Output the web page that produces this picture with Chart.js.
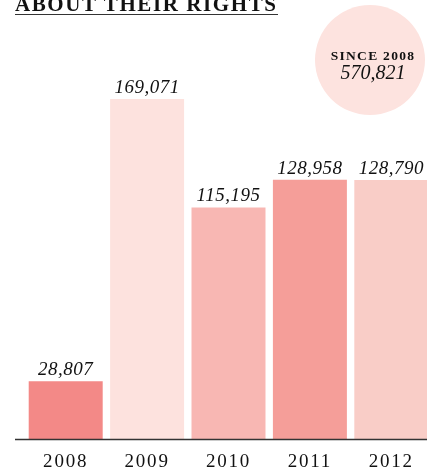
<!DOCTYPE html>
<html>
<head>
<meta charset="utf-8">
<script src="https://cdn.jsdelivr.net/npm/chart.js@4.4.1/dist/chart.umd.min.js"></script>
<style>
  html, body { margin: 0; padding: 0; background: #fff; overflow: hidden; width: 427px; height: 468px; }
  #wrap { position: absolute; left: 0; top: 0; width: 432px; height: 468px; }
  #title {
    position: absolute; left: 15px; top: -6px; margin: 0;
    font: bold 21px "Liberation Serif", serif; letter-spacing: 1.6px;
    color: #111; white-space: nowrap;
    border-bottom: 1.5px solid #333; line-height: 20px; padding-bottom: 0;
  }
  #badge {
    position: absolute; left: 315px; top: 5px; width: 110px; height: 110px;
    border-radius: 50%; background: #fde3df; text-align: center;
    font-family: "Liberation Serif", serif; color: #111;
  }
  #badge .lbl { position: absolute; left: 0; right: -6px; top: 43px; font-weight: bold; font-size: 13.5px; letter-spacing: 1.3px; }
  #badge .num { position: absolute; left: 0; right: -6px; top: 56px; font-style: italic; font-size: 20px; }
</style>
</head>
<body>
<div id="wrap"><canvas id="main-chart"></canvas></div>
<div id="title">ABOUT THEIR RIGHTS</div>
<div id="badge"><div class="lbl">SINCE 2008</div><div class="num" id="total"></div></div>
<script>
// data
const years = ["2008", "2009", "2010", "2011", "2012"];
const counts = [28807, 169071, 115195, 128958, 128790];
const barColors = ["#f38987", "#fde2de", "#f8b7b3", "#f59e99", "#f9cdc7"];

const fmt = n => n.toLocaleString("en-US");
document.getElementById("total").textContent = fmt(counts.reduce((a, b) => a + b, 0));

// wider tracking for the year labels
const tracking = {
  id: "tracking",
  beforeDraw(chart) { chart.ctx.letterSpacing = "1.8px"; }
};

// value labels above each bar
const valueLabels = {
  id: "valueLabels",
  afterDatasetsDraw(chart) {
    const ctx = chart.ctx;
    const meta = chart.getDatasetMeta(0);
    ctx.save();
    ctx.letterSpacing = "0.5px";
    ctx.font = "italic 19px 'Liberation Serif', serif";
    ctx.fillStyle = "#111";
    ctx.textAlign = "center";
    ctx.textBaseline = "alphabetic";
    meta.data.forEach((bar, i) => {
      ctx.fillText(fmt(counts[i]), bar.x, bar.y - 6);
    });
    ctx.restore();
  }
};

// dark baseline running past the first bar
const baseline = {
  id: "baseline",
  afterDatasetsDraw(chart) {
    const ctx = chart.ctx;
    const y = Math.round(chart.scales.y.getPixelForValue(0)) + 0.5;
    ctx.save();
    ctx.strokeStyle = "#333";
    ctx.lineWidth = 1.5;
    ctx.beginPath();
    ctx.moveTo(15, y);
    ctx.lineTo(chart.width, y);
    ctx.stroke();
    ctx.restore();
  }
};

new Chart(document.getElementById("main-chart"), {
  type: "bar",
  data: {
    labels: years,
    datasets: [{
      data: counts,
      backgroundColor: barColors,
      borderWidth: 0,
      barPercentage: 0.909,
      categoryPercentage: 1
    }]
  },
  options: {
    responsive: true,
    maintainAspectRatio: false,
    animation: false,
    layout: { padding: { left: 25, right: 0, top: 0, bottom: -16 } },
    plugins: { legend: { display: false }, tooltip: { enabled: false } },
    scales: {
      x: {
        grid: { display: false, drawTicks: false },
        border: { display: false },
        ticks: {
          color: "#111",
          padding: 11,
          font: { family: "'Liberation Serif', serif", size: 19 }
        }
      },
      y: {
        display: false,
        min: 0,
        max: 218300
      }
    }
  },
  plugins: [tracking, valueLabels, baseline]
});
</script>
</body>
</html>
